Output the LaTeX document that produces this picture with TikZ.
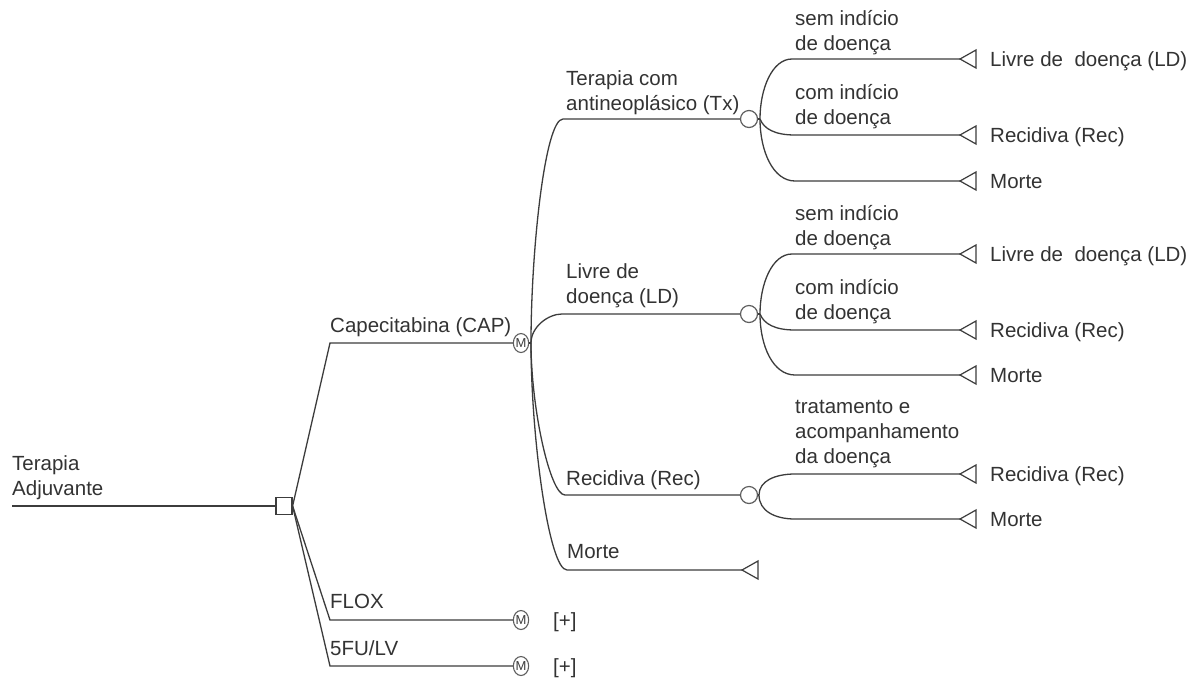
\documentclass[tikz,border=0pt]{standalone}
\usepackage{fontspec}
\setmainfont{Liberation Sans}
\usetikzlibrary{shapes.geometric}
\definecolor{ink}{HTML}{3C3C3C}
\definecolor{txt}{HTML}{333333}
\definecolor{ndc}{HTML}{5E5E5E}
\newcommand{\stk}[1]{\begin{tabular}[b]{@{}l@{}}#1\end{tabular}}
\newcommand{\trmnode}[3]{%
  \coordinate (#1) at (#2,#3);
  \draw[trm] (#1) -- ++(16,-9) -- ++(0,18) -- cycle;}
\begin{document}
\begin{tikzpicture}[x=1pt,y=-1pt,font=\fontsize{20.5}{25}\selectfont,
  br/.style={draw=ink,line width=1.3pt},
  lab/.style={anchor=base west,inner sep=0pt,text=txt},
  dsq/.style={draw=ink,line width=1.2pt,minimum width=16pt,minimum height=17pt,inner sep=0pt},
  chn/.style={circle,draw=ndc,line width=1.2pt,minimum size=17pt,inner sep=0pt},
  mkv/.style={ellipse,draw=ndc,line width=1.1pt,minimum width=15pt,minimum height=19pt,inner sep=0pt,font=\fontsize{13}{13}\selectfont,text=ink},
  trm/.style={draw=ink,line width=1.2pt,line join=miter},
]
\useasboundingbox[fill=white] (0,0) rectangle (1194,681);

% root and decision node
\node[lab] (rootl) at (12,495) {\stk{Terapia\\Adjuvante}};
\coordinate (r0) at (12,506);
\node[dsq] (dec) at (284,506) {};
\draw[br] (r0) -- (dec.west);

% strategies
\coordinate (capS) at (330,343);
\node[mkv] (mCAP) at (521,343) {M};
\draw[br] (dec.east) -- (capS) -- (mCAP.west);
\node[lab] (capl) at (330,332) {Capecitabina (CAP)};

\coordinate (floxS) at (330,620);
\node[mkv] (mFLOX) at (521,620) {M};
\draw[br] (dec.east) -- (floxS) -- (mFLOX.west);
\node[lab] (floxl) at (330,608) {FLOX};
\node[lab] (floxp) at (553,627) {[+]};

\coordinate (fuS) at (330,666);
\node[mkv] (mFU) at (521,666) {M};
\draw[br] (dec.east) -- (fuS) -- (mFU.west);
\node[lab] (ful) at (330,655) {5FU/LV};
\node[lab] (fup) at (553,673) {[+]};

% Markov states of CAP
\coordinate (mO) at (531,343);
\draw[br] (mCAP.east) -- (mO);

% Tx
\coordinate (txS) at (563,119);
\node[chn] (cTx) at (749,119) {};
\draw[br] (mO) .. controls +(0,-93) and +(-18,0) .. (txS) -- (cTx.west);
\node[lab] (txl) at (566,110) {\stk{Terapia com\\antineopl\'asico (Tx)}};
\coordinate (oTx) at (760,119);
\draw[br] (cTx.east) -- (oTx);
\trmnode{tTx1}{960}{59}
\trmnode{tTx2}{960}{135}
\trmnode{tTx3}{960}{181}
\coordinate (tx1) at (792,59);
\coordinate (tx2) at (795,135);
\coordinate (tx3) at (795,181);
\draw[br] (oTx) .. controls +(0,-30) and +(-20,0) .. (tx1) -- (tTx1);
\draw[br] (oTx) .. controls +(4,10) and +(-20,0) .. (tx2) -- (tTx2);
\draw[br] (oTx) .. controls +(0,32) and +(-22,0) .. (tx3) -- (tTx3);
\node[lab] (tx1a) at (795,50) {\stk{sem indício\\de doença}};
\node[lab] (tx2a) at (795,124) {\stk{com indício\\de doença}};
\node[lab] (tTx1l) at (990,66) {Livre de\ \ doença (LD)};
\node[lab] (tTx2l) at (990,142) {Recidiva (Rec)};
\node[lab] (tTx3l) at (990,188) {Morte};

% LD
\coordinate (ldS) at (562,314);
\node[chn] (cLD) at (749,314) {};
\draw[br] (mO) .. controls +(0,-16) and +(-14,0) .. (ldS) -- (cLD.west);
\node[lab] (ldl) at (566,303) {\stk{Livre de\\doença (LD)}};
\coordinate (oLD) at (760,314);
\draw[br] (cLD.east) -- (oLD);
\trmnode{tLD1}{960}{254}
\trmnode{tLD2}{960}{330}
\trmnode{tLD3}{960}{375}
\coordinate (ld1) at (792,254);
\coordinate (ld2) at (795,330);
\coordinate (ld3) at (795,375);
\draw[br] (oLD) .. controls +(0,-30) and +(-20,0) .. (ld1) -- (tLD1);
\draw[br] (oLD) .. controls +(4,10) and +(-20,0) .. (ld2) -- (tLD2);
\draw[br] (oLD) .. controls +(0,32) and +(-22,0) .. (ld3) -- (tLD3);
\node[lab] (ld1a) at (795,245) {\stk{sem indício\\de doença}};
\node[lab] (ld2a) at (795,319) {\stk{com indício\\de doença}};
\node[lab] (tLD1l) at (990,261) {Livre de\ \ doença (LD)};
\node[lab] (tLD2l) at (990,337) {Recidiva (Rec)};
\node[lab] (tLD3l) at (990,382) {Morte};

% Rec
\coordinate (recS) at (565,495);
\node[chn] (cRec) at (749,495) {};
\draw[br] (mO) .. controls +(0,65) and +(-15,0) .. (recS) -- (cRec.west);
\node[lab] (recl) at (566,485) {Recidiva (Rec)};
\coordinate (oRec) at (759,495);
\draw[br] (cRec.east) -- (oRec);
\trmnode{tRe1}{960}{474}
\trmnode{tRe2}{960}{519}
\coordinate (re1) at (795,474);
\coordinate (re2) at (795,519);
\draw[br] (oRec) .. controls +(0,-14) and +(-20,0) .. (re1) -- (tRe1);
\draw[br] (oRec) .. controls +(0,16) and +(-20,0) .. (re2) -- (tRe2);
\node[lab] (re1a) at (795,463) {\stk{tratamento e\\acompanhamento\\da doença}};
\node[lab] (tRe1l) at (990,481) {Recidiva (Rec)};
\node[lab] (tRe2l) at (990,526) {Morte};

% Morte
\coordinate (mS) at (567,570);
\trmnode{tM}{742}{570}
\draw[br] (mO) .. controls +(0,95) and +(-18,0) .. (mS) -- (tM);
\node[lab] (ml) at (567,558) {Morte};
\end{tikzpicture}
\end{document}
